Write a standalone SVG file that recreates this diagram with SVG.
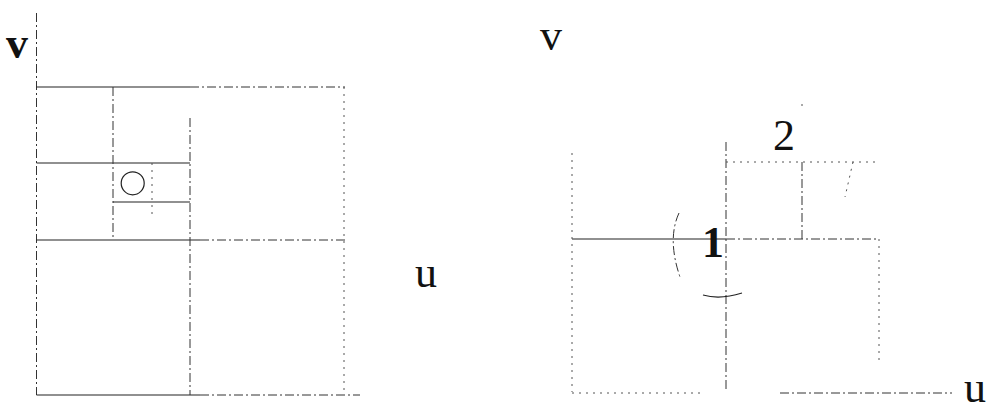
<svg xmlns="http://www.w3.org/2000/svg" width="991" height="412" viewBox="0 0 991 412">
<style>
.ln{stroke:#222;stroke-width:1.2;fill:none}
.dd{stroke:#333;stroke-width:1;fill:none;stroke-dasharray:9 3 2 3}
.dt{stroke:#555;stroke-width:1;fill:none;stroke-dasharray:2 5}
.t{font-family:"Liberation Serif","Times New Roman",serif;font-size:44px;fill:#111}
</style>
<rect width="991" height="412" fill="#fff"/>
<g id="left-panel">
<g id="connectors-left">
<line class="dd" x1="36.5" y1="13" x2="36.5" y2="395"/>
<line class="ln" x1="36.5" y1="395" x2="200" y2="395"/>
<line class="dd" x1="200" y1="395" x2="360" y2="395"/>
<line class="ln" x1="36.5" y1="87" x2="190" y2="87"/>
<line class="dd" x1="190" y1="87" x2="345" y2="87"/>
<line class="ln" x1="36.5" y1="163" x2="190" y2="163"/>
<line class="ln" x1="36.5" y1="240" x2="200" y2="240"/>
<line class="dd" x1="200" y1="240" x2="345" y2="240"/>
<line class="dd" x1="113" y1="87" x2="113" y2="240"/>
<line class="dd" x1="190" y1="118" x2="190" y2="395"/>
<line class="dt" x1="344" y1="87" x2="344" y2="395"/>
<line class="ln" x1="113" y1="202" x2="190" y2="202"/>
<line class="dt" x1="152" y1="163" x2="152" y2="216"/>
</g>
<circle id="circle" cx="132.7" cy="183.3" r="11.5" class="ln"/>
<text class="t" x="6" y="58" font-weight="bold" font-size="48">v</text>
<text class="t" x="415" y="287">u</text>
</g>
<g id="right-panel">
<g id="connectors-right">
<line class="ln" x1="572" y1="239" x2="726" y2="239"/>
<line class="dd" x1="726" y1="239" x2="879" y2="239"/>
<line class="dt" x1="572" y1="153" x2="572" y2="392"/>
<line class="dt" x1="572" y1="393" x2="700" y2="393"/>
<line class="dd" x1="780" y1="393" x2="952" y2="393"/>
<line class="dd" x1="726" y1="142" x2="726" y2="392"/>
<line class="dt" x1="879" y1="239" x2="879" y2="362"/>
<line class="dt" x1="726" y1="162" x2="879" y2="162"/>
<line class="dd" x1="802" y1="162" x2="802" y2="239"/>
<line class="dt" x1="802" y1="104" x2="802" y2="107"/>
<line class="dt" x1="853" y1="162" x2="845" y2="197"/>
<path class="dd" d="M679 213 Q667 239 680 277"/>
<path class="ln" d="M703 295 Q720 300 742 293"/>
</g>
<text class="t" x="540" y="50">v</text>
<text class="t" x="773" y="150">2</text>
<text class="t" x="702" y="257" font-weight="bold">1</text>
<text class="t" x="964" y="402" font-size="40">u</text>
</g>
</svg>
